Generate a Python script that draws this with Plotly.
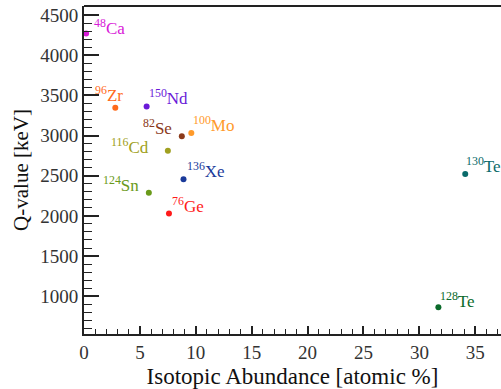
import plotly.graph_objects as go

isotopes = ["48Ca", "96Zr", "150Nd", "82Se", "100Mo", "116Cd", "136Xe", "124Sn", "76Ge", "130Te", "128Te"]
mass = ["48", "96", "150", "82", "100", "116", "136", "124", "76", "130", "128"]
element = ["Ca", "Zr", "Nd", "Se", "Mo", "Cd", "Xe", "Sn", "Ge", "Te", "Te"]
abundance = [0.19, 2.8, 5.6, 8.75, 9.6, 7.5, 8.9, 5.8, 7.6, 34.1, 31.7]
qvalue = [4270, 3345, 3362, 2990, 3030, 2810, 2455, 2288, 2030, 2522, 862]
colors = ["#d81ad8", "#ff6a1a", "#6a1ad8", "#8b3a1a", "#ff9a2a", "#a0a020", "#1a3a9a", "#6a9a1a", "#ff1a1a", "#0a6a6a", "#0a6a2a"]
# label placement (anchor side, x offset px, y offset px)
label_anchor = ["left", "right", "left", "right", "left", "right", "left", "right", "left", "left", "left"]
label_dx = [6, 10, 0, -8, 0, -17, 1, -8, 1, -1, 0]
label_dy = [-7, 1, -4, -4, -4, -8, -4, -4, -5, -4, -6]

fig = go.Figure()
fig.add_trace(go.Scatter(
    x=abundance, y=qvalue, mode="markers",
    marker=dict(color=colors, size=6),
    showlegend=False, hoverinfo="skip"))

serif = "Liberation Serif"
for xi, yi, m, el, c, anc, dx, dy in zip(abundance, qvalue, mass, element, colors, label_anchor, label_dx, label_dy):
    fig.add_annotation(
        x=xi, y=yi, text=f"<sup>{m}</sup>{el}", showarrow=False,
        xanchor=anc, yanchor="bottom",
        xshift=dx, yshift=dy,
        font=dict(family=serif, size=17, color=c))

# top frame line of the plot area
fig.add_shape(type="line", xref="paper", yref="paper", x0=0, x1=1, y0=1, y1=1,
              line=dict(color="#222", width=2))

fig.update_layout(
    width=501, height=389,
    margin=dict(l=84, r=0, t=6, b=55),
    paper_bgcolor="white", plot_bgcolor="white",
    font=dict(family=serif, size=19, color="#222"),
    xaxis=dict(
        range=[0, 37.3], dtick=5, tick0=0,
        showgrid=False, zeroline=False, automargin=False,
        showline=True, linecolor="#222", linewidth=2, mirror=False,
        ticks="inside", ticklen=8, tickwidth=1.5, tickcolor="#222",
        minor=dict(dtick=1, ticks="inside", ticklen=5, tickwidth=1, tickcolor="#222", showgrid=False),
        title=dict(text="Isotopic Abundance [atomic %]", font=dict(family=serif, size=23, color="#111"), standoff=6),
        tickfont=dict(family=serif, size=19, color="#333"),
    ),
    yaxis=dict(
        range=[530, 4612], dtick=500, tick0=0,
        showgrid=False, zeroline=False, automargin=False,
        showline=True, linecolor="#222", linewidth=2, mirror=False,
        ticks="inside", ticklen=15, tickwidth=1.5, tickcolor="#222",
        minor=dict(dtick=100, ticks="inside", ticklen=8, tickwidth=1, tickcolor="#222", showgrid=False),
        title=dict(text="Q-value [keV]", font=dict(family=serif, size=21, color="#111"), standoff=6),
        tickfont=dict(family=serif, size=19, color="#333"),
    ),
)

fig.write_html("out.html", config={"displayModeBar": False},
               post_script="document.body.style.margin='0';document.body.style.overflow='hidden';document.documentElement.style.overflow='hidden';")
